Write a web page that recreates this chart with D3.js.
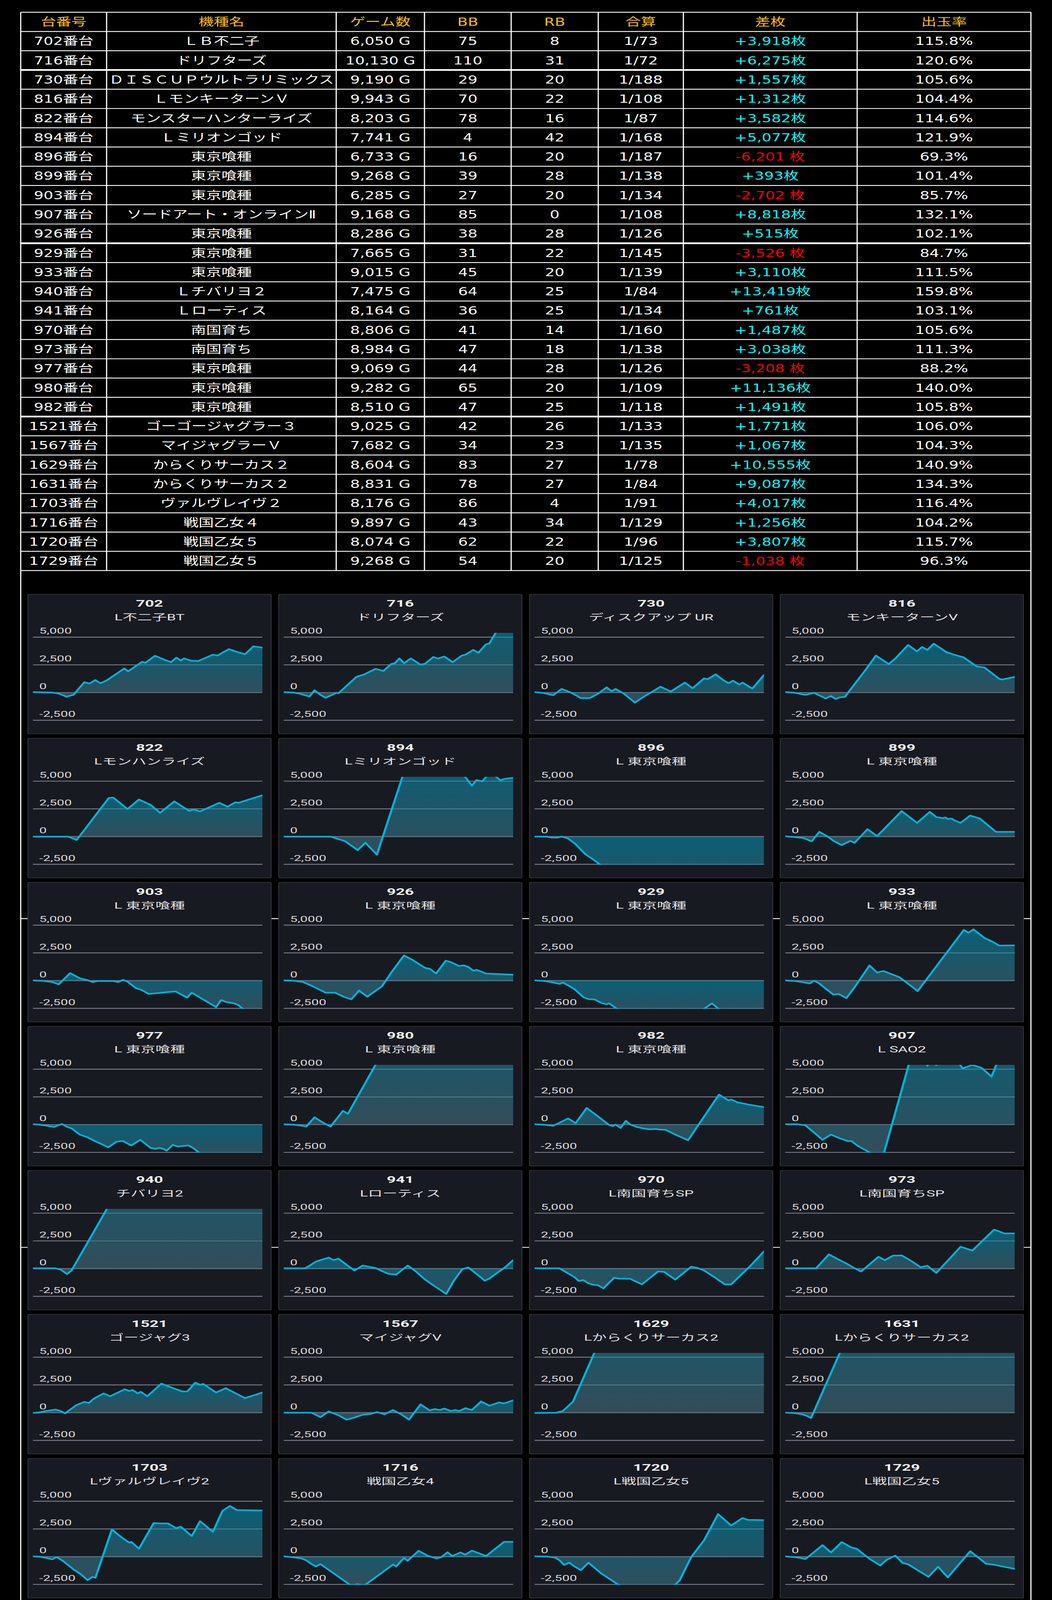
<!DOCTYPE html>
<html>
<head>
<meta charset="utf-8">
<script src="https://cdn.jsdelivr.net/npm/d3@7"></script>
<style>
  html, body { margin: 0; padding: 0; background: #000; overflow: hidden; }
  svg { display: block; }
</style>
</head>
<body>
<svg id="chart"></svg>
<script>
// ---- table data ----
const headers = ["台番号", "機種名", "ゲーム数", "BB", "RB", "合算", "差枚", "出玉率"]
const machineNos = [702, 716, 730, 816, 822, 894, 896, 899, 903, 907, 926, 929, 933, 940, 941,
  970, 973, 977, 980, 982, 1521, 1567, 1629, 1631, 1703, 1716, 1720, 1729]
const machineNames = ["ＬＢ不二子", "ドリフターズ", "ＤＩＳＣＵＰウルトラリミックス", "ＬモンキーターンＶ",
  "モンスターハンターライズ", "Ｌミリオンゴッド", "東京喰種", "東京喰種", "東京喰種", "ソードアート・オンラインⅡ",
  "東京喰種", "東京喰種", "東京喰種", "Ｌチバリヨ２", "Ｌローティス", "南国育ち", "南国育ち", "東京喰種",
  "東京喰種", "東京喰種", "ゴーゴージャグラー３", "マイジャグラーＶ", "からくりサーカス２", "からくりサーカス２",
  "ヴァルヴレイヴ２", "戦国乙女４", "戦国乙女５", "戦国乙女５"]
const games = [6050, 10130, 9190, 9943, 8203, 7741, 6733, 9268, 6285, 9168, 8286, 7665, 9015, 7475, 8164,
  8806, 8984, 9069, 9282, 8510, 9025, 7682, 8604, 8831, 8176, 9897, 8074, 9268]
const bigBonus = [75, 110, 29, 70, 78, 4, 16, 39, 27, 85, 38, 31, 45, 64, 36, 41, 47, 44, 65, 47, 42, 34, 83, 78, 86, 43, 62, 54]
const regBonus = [8, 31, 20, 22, 16, 42, 20, 28, 20, 0, 28, 22, 20, 25, 25, 14, 18, 28, 20, 25, 26, 23, 27, 27, 4, 34, 22, 20]
const combinedOdds = [73, 72, 188, 108, 87, 168, 187, 138, 134, 108, 126, 145, 139, 84, 134, 160, 138, 126, 109, 118,
  133, 135, 78, 84, 91, 129, 96, 125]
const coinDiff = [3918, 6275, 1557, 1312, 3582, 5077, -6201, 393, -2702, 8818, 515, -3526, 3110, 13419, 761,
  1487, 3038, -3208, 11136, 1491, 1771, 1067, 10555, 9087, 4017, 1256, 3807, -1038]
const payoutRate = [115.8, 120.6, 105.6, 104.4, 114.6, 121.9, 69.3, 101.4, 85.7, 132.1, 102.1, 84.7, 111.5, 159.8, 103.1,
  105.6, 111.3, 88.2, 140.0, 105.8, 106.0, 104.3, 140.9, 134.3, 116.4, 104.2, 115.7, 96.3]

// ---- small chart data: [play progress %, coin difference] ----
const panelNos = [702, 716, 730, 816, 822, 894, 896, 899, 903, 926, 929, 933, 977, 980, 982, 907,
  940, 941, 970, 973, 1521, 1567, 1629, 1631, 1703, 1716, 1720, 1729]
const panelNames = ["L不二子BT", "ドリフターズ", "ディスクアップ UR", "モンキーターンV", "Lモンハンライズ", "Lミリオンゴッド",
  "L 東京喰種", "L 東京喰種", "L 東京喰種", "L 東京喰種", "L 東京喰種", "L 東京喰種", "L 東京喰種", "L 東京喰種", "L 東京喰種",
  "L SAO2", "チバリヨ2", "Lローティス", "L南国育ちSP", "L南国育ちSP", "ゴージャグ3", "マイジャグV",
  "Lからくりサーカス2", "Lからくりサーカス2", "Lヴァルヴレイヴ2", "戦国乙女4", "L戦国乙女5", "L戦国乙女5"]
const curves = [
  [[0,40],[8.4,0],[11.2,-90],[14.6,-370],[17.6,-210],[22.4,940],[24.6,810],[27.2,1130],[29.4,840],[32.2,1110],[39.8,2180],[41.5,1920],[47.6,2780],[49,2690],[53.2,3320],[57.4,2950],[60.2,2750],[62.5,3150],[64.4,2890],[65.8,3080],[69.2,2870],[72,2840],[78.4,3420],[80.4,3340],[85.4,3920],[88.2,3720],[92.4,3460],[96.1,4170],[100,4060]],
  [[0,40],[4.2,0],[7,-100],[11.2,-360],[13.4,210],[16,-210],[18.2,-470],[21,-210],[23,-20],[23.8,-70],[31.6,1410],[35,1630],[40,2140],[43.4,1950],[46.8,2570],[48.4,2650],[50.4,3080],[52.4,2650],[55.4,3080],[59.6,2520],[61.6,2610],[65.2,3210],[67.2,3080],[70,3250],[73.6,2740],[77.6,3340],[79.2,3420],[82.6,3850],[84.8,3590],[88.2,4360],[89.6,4430],[92.4,5400],[95.2,6000],[100,6275]],
  [[0,40],[3.9,-40],[8.1,-240],[11.8,330],[15.7,20],[20.2,-500],[24.1,-500],[27.7,-100],[31.4,470],[33.6,130],[35.3,330],[38.9,-90],[43.7,-900],[48.2,-300],[51.5,100],[54.9,530],[59.4,100],[65.5,900],[68.9,390],[73.9,1280],[75.3,1200],[79,1640],[82.3,1110],[84.6,860],[86.5,1070],[89.3,730],[90.7,900],[94.9,360],[100,1580]],
  [[0,40],[3.6,0],[8.7,-210],[12.6,-20],[14.8,-260],[17.6,-530],[19.9,-300],[21.8,-580],[23.8,-430],[26,-390],[28,170],[35,2050],[39.5,3340],[45.1,2570],[48.4,3170],[53.5,4290],[57.4,3720],[59.6,4110],[61.9,3850],[64.7,4410],[70.3,3640],[74.2,3380],[77.8,3170],[83.4,2350],[86.8,2270],[93.2,1240],[94.6,1180],[100,1410]],
  [[0,0],[15.4,0],[19,-300],[22.4,600],[33,3480],[35,3520],[41.2,2490],[46.2,3350],[51.2,2870],[55.4,2150],[61.6,3180],[68,2320],[70,2450],[72.8,2270],[81.2,3050],[84.8,2700],[88.2,3090],[89.6,3050],[100,3730]],
  [[0,0],[20.4,0],[23.8,-230],[26.6,-400],[32.2,-1220],[35.6,-560],[40.6,-1630],[53,6200],[75,6500],[82,4590],[84,5100],[86.5,4980],[90,5800],[94.6,5060],[95.8,5190],[97.7,5250],[100,5300]],
  [[0,0],[5.3,0],[7.3,-90],[10.1,-90],[11.8,0],[14.6,-170],[17.9,-690],[22.1,-1590],[24.9,-1970],[28.6,-2530],[32,-3200],[55,-4800],[80,-5600],[100,-6200]],
  [[0,20],[3.6,-40],[7.8,-130],[11.5,-430],[14.8,430],[18.2,40],[21,-390],[24.6,-770],[28.3,-390],[30.2,-560],[35.8,670],[40,40],[50.7,2300],[57.4,1240],[63,2230],[65.8,1760],[68.6,1670],[69.7,1730],[70.8,1590],[72.5,1630],[73.6,1480],[76.4,1240],[80.6,1900],[84.8,1630],[91.8,430],[100,430]],
  [[0,20],[4.2,-20],[8.4,-130],[11.2,-340],[16.2,680],[20.4,210],[23.8,40],[26,-130],[28,-40],[35,-40],[37.2,-130],[39.2,70],[41.2,-90],[44.8,-680],[47,-810],[50.4,-1200],[53.2,-1150],[55.4,-1110],[58.8,-1040],[62.2,-980],[67.2,-1540],[69.2,-1090],[79.8,-2390],[82,-1750],[84,-1920],[87.6,-2050],[89.6,-2220],[92,-2650],[95,-2750],[100,-2700]],
  [[0,20],[3.6,0],[8.4,-130],[12.6,-510],[18.2,-1090],[22.4,-1090],[26,-1450],[29.4,-1690],[32.8,-900],[36.4,-1450],[42.8,-510],[47,770],[52.4,2270],[56,1880],[61.6,1150],[63.6,1070],[66.4,640],[70.6,1800],[72.8,1670],[76.4,1320],[78.4,1380],[80.4,1240],[82.6,900],[84,980],[88.2,640],[92.4,600],[100,530]],
  [[0,20],[4.5,-40],[8.1,-170],[10.9,-300],[12.3,-170],[14.6,-430],[17.4,-770],[21.3,-1500],[23.5,-1670],[26.3,-1710],[29.1,-2010],[31.4,-2140],[32.5,-2050],[37,-2700],[50,-3300],[70,-3100],[77.3,-2050],[84,-3200],[100,-3526]],
  [[0,20],[3.6,-20],[7.8,-150],[10.6,-260],[12.6,0],[14.8,-260],[17.6,-730],[21,-1270],[23.2,-1200],[26.6,-1580],[30.2,-600],[36.7,1370],[40,730],[42.8,870],[49.8,300],[57.7,-940],[77.8,4570],[79.8,4320],[82,4620],[86.8,3850],[90.4,3500],[93.2,3160],[100,3180]],
  [[0,40],[2.8,0],[5.6,-90],[9.2,-210],[12.6,60],[14.8,-210],[16.8,-340],[20.4,-900],[23.8,-1150],[26.6,-1450],[29.4,-1710],[32.8,-2050],[36.4,-1540],[39.2,-1480],[42.8,-1880],[46.8,-1370],[51.2,-2100],[53.2,-2180],[55.2,-2100],[56.8,-2200],[58.2,-2350],[61,-1820],[63,-1970],[65.8,-1920],[67.8,-1880],[70,-2140],[74,-2800],[85,-3000],[100,-3208]],
  [[0,30],[4.2,0],[7.6,-90],[9.8,-170],[13.4,660],[16.8,210],[20.4,-170],[25.8,1240],[28,980],[48,8340],[70,10500],[100,11136]],
  [[0,30],[3.9,0],[8.1,-110],[10.9,170],[14.6,560],[17.9,130],[22.7,1500],[27.7,740],[32.5,-40],[34.2,-130],[35.3,0],[37.5,-300],[39.8,340],[41.7,0],[44.5,-210],[47.3,-340],[48.7,-390],[50.1,-430],[52.9,-390],[54.3,-450],[57.1,-470],[62.2,-980],[66.9,-1410],[80.4,2710],[82.9,2390],[84.6,2180],[85.7,2270],[88.5,2010],[93.5,1800],[100,1580]],
  [[0,40],[5,40],[8.7,-60],[12.6,-730],[16.2,-1370],[19.9,-900],[23.8,-1240],[27.4,-1500],[28.8,-1480],[31.6,-1920],[42.2,-3150],[58,8500],[61.9,5300],[63.5,6000],[65.8,5360],[72,6500],[77.3,5080],[81.5,5380],[85.4,5140],[89.9,4330],[95,7000],[100,8818]],
  [[0,30],[9.8,30],[12.1,-90],[14.8,-490],[16.8,-170],[45,10000],[70,12500],[100,13419]],
  [[0,30],[9.2,30],[11.2,260],[14,640],[16.8,820],[19.6,1000],[21.6,770],[23.8,900],[26.6,470],[30.8,-170],[34.4,280],[37.2,170],[40,60],[42,-150],[45.6,-470],[49,-540],[54,280],[57.4,-220],[61.6,-990],[65.8,-1590],[70.8,-2280],[74.2,-1070],[77.8,-40],[80.4,110],[84,-470],[87.6,-1090],[89.6,-900],[93.8,-260],[96,40],[100,770]],
  [[0,30],[10.9,30],[14.6,-430],[17.4,-770],[19.3,-1120],[21.3,-1030],[23.5,-1330],[25.8,-1460],[27.7,-1500],[30,-1780],[34.7,-820],[37,-900],[41.7,-920],[46.8,-1420],[53.8,-260],[56.6,-300],[61.3,-990],[68.3,170],[70.6,90],[73.9,-170],[78.1,-730],[82.9,-1420],[85.7,-1420],[93.5,130],[100,1550]],
  [[0,30],[13.4,30],[19,1290],[23.2,820],[26.6,470],[29.4,130],[33,-260],[40.6,1070],[43.4,770],[47,1180],[49,1180],[50.7,1200],[54.6,730],[59,130],[61.9,260],[65.8,-390],[76.4,1980],[81.5,1630],[91,3520],[95.5,3180],[100,3180]],
  [[0,-30],[2.8,30],[5.6,150],[9.8,280],[12,150],[14,-60],[18.8,670],[22.4,970],[24.4,880],[26.6,1280],[30.8,1740],[33.6,1480],[40,2110],[42,1950],[43.4,2050],[45.6,1740],[47,1880],[49.8,1480],[56,2620],[61.6,2170],[65.2,1910],[67.2,1910],[70.8,2710],[72.8,2510],[74.2,2590],[79.8,1820],[84,2210],[92.4,1310],[100,1820]],
  [[0,0],[12,0],[16,-400],[19.6,110],[23.8,-230],[27.4,-630],[30.8,-450],[34.4,-190],[37.8,-120],[40.6,50],[43.9,-150],[47.6,240],[51.2,-150],[54.6,-630],[59.6,750],[63.6,200],[65.8,330],[68,240],[70,370],[72.8,150],[74.8,240],[76.4,140],[79.2,410],[82,240],[86,1010],[89.6,630],[93.8,920],[96,840],[100,1110]],
  [[0,-30],[9.5,0],[12.3,150],[14.6,580],[16.8,1010],[40,12000],[70,11000],[100,10555]],
  [[0,0],[3.6,-30],[7.3,-150],[9.2,-270],[11.2,-490],[40,13000],[100,9087]],
  [[0,30],[2.8,0],[5.6,-110],[8.4,-240],[10.4,-30],[13.2,-410],[17.6,-1140],[21,-1610],[23.8,-2110],[26,-1820],[27.2,-1910],[34.4,2460],[38.4,1770],[42,1260],[42.8,1340],[46.2,720],[52.6,3030],[56,3000],[58.8,3000],[62.4,2570],[64.4,2710],[69.2,1860],[72.8,3200],[78.4,2240],[82.6,4140],[85.9,4570],[88.8,4200],[100,4170]],
  [[0,30],[4.2,-60],[7.6,-150],[9.8,-330],[12,-650],[14,-880],[16,-670],[29.4,-2620],[32.2,-2480],[35,-2620],[47.6,-710],[49,-880],[52.4,-110],[54,-370],[58.8,530],[63,60],[66.6,-150],[68.6,-50],[71.4,400],[73.4,60],[77,380],[79.2,190],[82,550],[88.2,60],[96,1340],[100,1340]],
  [[0,30],[5.3,20],[9,-90],[10.9,-330],[12.9,-750],[15.1,-540],[17.4,-880],[20.2,-1220],[23.5,-540],[29.1,-1520],[40,-3000],[50,-3300],[60,-2800],[63.3,-2120],[68.3,-30],[73.9,1480],[80,3840],[85.7,2810],[90.7,3490],[93,3320],[100,3300]],
  [[0,30],[3.6,-30],[6.4,-110],[8.7,-220],[10.6,90],[16.2,1040],[19.9,380],[24.6,1320],[28.8,830],[31.1,720],[36.7,-200],[41.4,-800],[44.2,-280],[47.9,90],[51.2,-580],[53.5,-690],[62.4,-1820],[66.6,-910],[70.8,-1870],[80.6,490],[87.6,-650],[89.9,-690],[100,-1100]]
]
const yTicks = [-2500, 0, 2500, 5000]

// ---- layout ----
const width = 2694
const height = 5626
const colEdges = [53, 273, 861, 1087, 1309, 1532, 1750, 2195, 2640]
const tableTop = 43
const rowH = 67.7
const thickAfter = [3, 12, 21]      // row boundaries drawn thicker
const tableBottom = tableTop + (machineNos.length + 1) * rowH

const panelLeft = 71.5, panelTop = 2089.7
const panelStepX = 642.2, panelStepY = 506.4
const panelW = 623, panelH = 491
const plotL = 13, plotR = 600.5
const stretch = 1.22

const fmt = d3.format(",")
const signed = v => (v < 0 ? "-" : "") + fmt(Math.abs(v))

// draw in the 2694x5626 design space, fitted to whatever viewport we get
const vw = window.innerWidth || width
const vh = window.innerHeight || height
const svg = d3.select("#chart")
  .attr("width", vw).attr("height", vh)
  .attr("viewBox", [0, 0, width, height])
  .attr("preserveAspectRatio", "none")
svg.append("rect").attr("width", width).attr("height", height).attr("fill", "#000")

// ---------- table ----------
const rows = machineNos.map((no, i) => [
  `${no}番台`,
  machineNames[i],
  `${fmt(games[i])} G`,
  bigBonus[i],
  regBonus[i],
  `1/${combinedOdds[i]}`,
  coinDiff[i] >= 0 ? `+${fmt(coinDiff[i])}枚` : `${signed(coinDiff[i])} 枚`,
  `${payoutRate[i].toFixed(1)}%`
])

const table = svg.append("g")
  .style("font-family", "'DejaVu Sans', 'Noto Sans CJK JP', sans-serif")
  .style("font-size", "39px")

function cellText(txt, col, rowIdx, color) {
  const x0 = colEdges[col], x1 = colEdges[col + 1]
  const t = table.append("text")
    .attr("x", (x0 + x1) / 2)
    .attr("y", tableTop + rowIdx * rowH + rowH / 2 + 14)
    .attr("text-anchor", "middle")
    .attr("fill", color)
    .text(txt)
  const maxW = x1 - x0 - 12
  if (t.node().getComputedTextLength() > maxW) {
    t.attr("textLength", maxW).attr("lengthAdjust", "spacingAndGlyphs")
  }
}

headers.forEach((h, c) => cellText(h, c, 0, "#ffc000"))
rows.forEach((r, i) => {
  r.forEach((v, c) => {
    let color = "#ffffff"
    if (c === 6) color = coinDiff[i] >= 0 ? "#00ffff" : "#ff0000"
    cellText(String(v), c, i + 1, color)
  })
})

// grid lines of the table
d3.range(machineNos.length + 2).forEach(k => {
  table.append("line")
    .attr("x1", colEdges[0]).attr("x2", colEdges[colEdges.length - 1])
    .attr("y1", tableTop + k * rowH).attr("y2", tableTop + k * rowH)
    .attr("stroke", "#fff")
    .attr("stroke-width", thickAfter.includes(k) ? 6 : 3)
})
colEdges.forEach(x => {
  table.append("line")
    .attr("x1", x).attr("x2", x)
    .attr("y1", tableTop).attr("y2", tableBottom)
    .attr("stroke", "#fff").attr("stroke-width", 3)
})

// frame lines around the chart area (seams of the original picture)
;[colEdges[0], colEdges[colEdges.length - 1]].forEach(x => {
  svg.append("line").attr("x1", x).attr("x2", x)
    .attr("y1", tableBottom).attr("y2", height)
    .attr("stroke", "#fff").attr("stroke-width", 3)
})
;[3230, 4386].forEach(y => {
  svg.append("line").attr("x1", colEdges[0]).attr("x2", colEdges[colEdges.length - 1])
    .attr("y1", y).attr("y2", y)
    .attr("stroke", "#fff").attr("stroke-width", 3)
})

// ---------- small charts ----------
const defs = svg.append("defs")
const grad = defs.append("linearGradient")
  .attr("id", "areaFill")
  .attr("x1", 0).attr("y1", 0).attr("x2", 0).attr("y2", 1)
grad.append("stop").attr("offset", "0%").attr("stop-color", "rgb(0,150,185)").attr("stop-opacity", 0.55)
grad.append("stop").attr("offset", "100%").attr("stop-color", "rgb(70,110,125)").attr("stop-opacity", 0.6)

const x = d3.scaleLinear().domain([0, 100]).range([plotL, plotR])
const y = d3.scaleLinear().domain([-2500, 5000]).range([443, 150.6])

defs.append("clipPath").attr("id", "plotClip")
  .append("rect")
  .attr("x", plotL).attr("y", y(5390))
  .attr("width", plotR - plotL).attr("height", y(-2540) - y(5390))

const area = d3.area()
  .x(d => x(d[0]))
  .y0(y(0))
  .y1(d => y(d[1]))
const line = d3.line()
  .x(d => x(d[0]))
  .y(d => y(d[1]))

function stretchedText(parent, tx, ty) {
  return parent.append("g")
    .attr("transform", `translate(${tx},${ty}) scale(${stretch},1)`)
    .append("text")
}

const panelFont = "Roboto, 'Noto Sans CJK JP', sans-serif"

panelNos.forEach((no, i) => {
  const c = i % 4, r = Math.floor(i / 4)
  const g = svg.append("g")
    .attr("transform", `translate(${panelLeft + c * panelStepX},${panelTop + r * panelStepY})`)
    .style("font-family", panelFont)

  g.append("rect")
    .attr("width", panelW).attr("height", panelH)
    .attr("rx", 3)
    .attr("fill", "#181a22")
    .attr("stroke", "#36383f")
    .attr("stroke-width", 2)

  stretchedText(g, panelW / 2, 43.6)
    .attr("text-anchor", "middle")
    .attr("fill", "#f2f2f2")
    .style("font-size", "33px")
    .style("font-weight", "bold")
    .text(no)

  stretchedText(g, panelW / 2, 92)
    .attr("text-anchor", "middle")
    .attr("fill", "#e4e4e4")
    .style("font-size", "31px")
    .text(panelNames[i])

  yTicks.forEach(t => {
    g.append("line")
      .attr("x1", plotL).attr("x2", plotR)
      .attr("y1", y(t)).attr("y2", y(t))
      .attr("stroke", "#7e8187").attr("stroke-width", 3)
    stretchedText(g, plotL + 16, y(t) - 12)
      .attr("fill", "#d8d8d8")
      .style("font-size", "28px")
      .text(signed(t))
  })

  const plot = g.append("g").attr("clip-path", "url(#plotClip)")
  plot.append("path")
    .datum(curves[i])
    .attr("d", area)
    .attr("fill", "url(#areaFill)")
  plot.append("path")
    .datum(curves[i])
    .attr("d", line)
    .attr("fill", "none")
    .attr("stroke", "#00b4d8")
    .attr("stroke-width", 5.5)
    .attr("stroke-linejoin", "round")
    .attr("stroke-linecap", "round")
})
</script>
</body>
</html>
